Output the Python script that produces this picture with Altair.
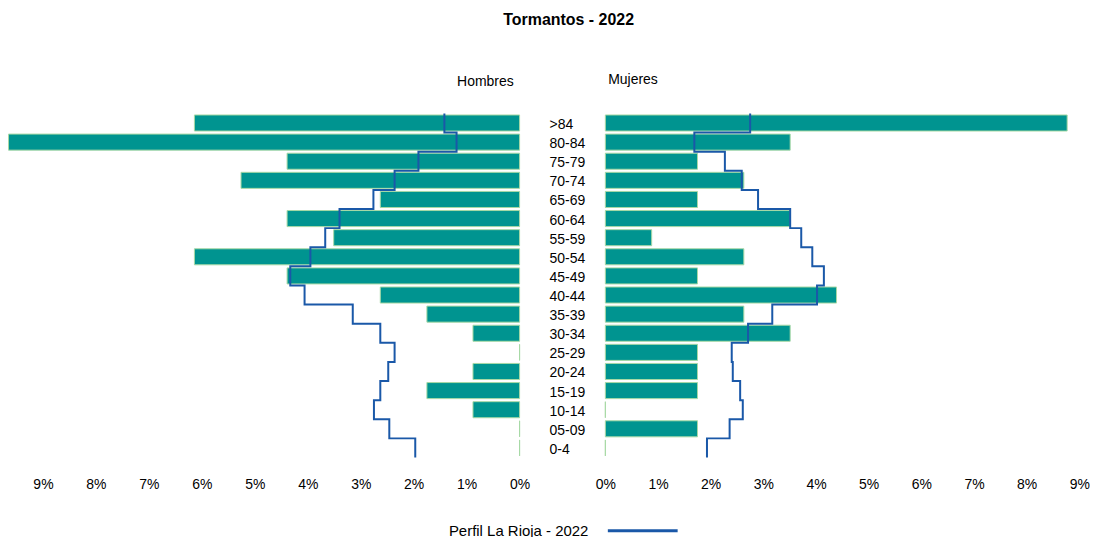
import altair as alt
import pandas as pd

# ---- data ----
edades = [">84", "80-84", "75-79", "70-74", "65-69", "60-64", "55-59", "50-54", "45-49",
          "40-44", "35-39", "30-34", "25-29", "20-24", "15-19", "10-14", "05-09", "0-4"]
hombres = [6.14, 9.65, 4.39, 5.26, 2.63, 4.39, 3.51, 6.14, 4.39,
           2.63, 1.75, 0.88, 0.0, 0.88, 1.75, 0.88, 0.0, 0.0]
mujeres = [8.77, 3.51, 1.75, 2.63, 1.75, 3.51, 0.88, 2.63, 1.75,
           4.39, 2.63, 3.51, 1.75, 1.75, 1.75, 0.0, 1.75, 0.0]
rioja_h = [1.42, 1.19, 1.91, 2.36, 2.76, 3.40, 3.67, 3.95, 4.33,
           4.06, 3.15, 2.63, 2.36, 2.48, 2.63, 2.75, 2.46, 1.97]
rioja_m = [2.75, 1.69, 2.27, 2.59, 2.90, 3.51, 3.72, 3.93, 4.15,
           4.02, 3.17, 2.71, 2.40, 2.42, 2.56, 2.61, 2.36, 1.93]
serie = "Perfil La Rioja - 2022"
ticks = list(range(10))

n = len(edades)
barras = pd.DataFrame({"edad": edades, "fila": list(range(n)),
                       "hombres": hombres, "mujeres": mujeres})
filas = []
for i, (h, m) in enumerate(zip(rioja_h, rioja_m)):
    filas.append({"orden": 2 * i, "borde": i - 0.5, "h": h, "m": m, "serie": serie})
    filas.append({"orden": 2 * i + 1, "borde": i + 0.5, "h": h, "m": m, "serie": serie})
perfil = pd.DataFrame(filas)

TEAL = "#009490"
EDGE = "#a8d9a6"
BLUE = "#1a58a8"
FONT = "Liberation Sans"
H = 345

yscale = alt.Scale(domain=[-0.5, n - 0.5], reverse=True, nice=False, zero=False)
color = alt.Color("serie:N", scale=alt.Scale(domain=[serie], range=[BLUE]),
                  legend=alt.Legend(orient="none", legendX=600, legendY=382, title=None,
                                    labelFont=FONT, labelFontSize=15, labelColor="black",
                                    labelAlign="right", labelBaseline="middle",
                                    labelOffset={"expr": "-91"}, labelLimit=300,
                                    symbolType="stroke", symbolSize=4900,
                                    symbolStrokeWidth=3))


def panel(col, prof_col, xscale, title, width):
    xaxis = alt.Axis(values=ticks, labelExpr="datum.value + '%'", title=None, labelFlush=False)
    b = alt.Chart(barras).transform_calculate(
        y0="datum.fila - 0.42", y1="datum.fila + 0.42"
    ).mark_rect(color=TEAL, stroke=EDGE, strokeWidth=1).encode(
        x=alt.X(f"{col}:Q", scale=xscale, axis=xaxis),
        x2=alt.datum(0),
        y=alt.Y("y0:Q", scale=yscale, axis=None),
        y2="y1:Q",
    )
    l = alt.Chart(perfil).mark_line(strokeWidth=2).encode(
        x=alt.X(f"{prof_col}:Q", scale=xscale, axis=xaxis),
        y=alt.Y("borde:Q", scale=yscale, axis=None),
        order="orden:Q",
        color=color,
    )
    return alt.layer(b, l).properties(width=width, height=H, title=title)


left = panel("hombres", "h", alt.Scale(domain=[0, 9.66], reverse=True, nice=False, zero=True),
             alt.TitleParams("Hombres", anchor="end", dx=-16, offset=21, fontSize=14,
                             fontWeight="normal", font=FONT, color="black"), 513)
right = panel("mujeres", "m", alt.Scale(domain=[0, 9.09], nice=False, zero=True),
              alt.TitleParams("Mujeres", anchor="start", dx=13, offset=23, fontSize=14,
                              fontWeight="normal", font=FONT, color="black"), 480)

mid = alt.Chart(barras).mark_text(align="left", baseline="middle", fontSize=14,
                                  font=FONT, color="black", dy=2).encode(
    x=alt.value(30),
    y=alt.Y("fila:Q", scale=yscale, axis=None),
    text="edad:N",
).properties(width=86, height=H,
             title=alt.TitleParams(" ", offset=21, fontSize=14, font=FONT))

chart = alt.hconcat(left, mid, right, spacing=0, bounds="flush").properties(
    padding={"top": 3, "left": 0, "right": 0, "bottom": 0},
    title=alt.TitleParams("Tormantos - 2022", fontSize=16, fontWeight="bold", font=FONT,
                          color="black", anchor="middle", dx=20, offset=45),
).configure_view(stroke=None).configure_axis(
    labelFont=FONT, labelFontSize=14, labelColor="black", ticks=False, domain=False,
    grid=False, labelPadding=20,
)

chart.save("out.html", embed_options={"renderer": "svg", "actions": False})
